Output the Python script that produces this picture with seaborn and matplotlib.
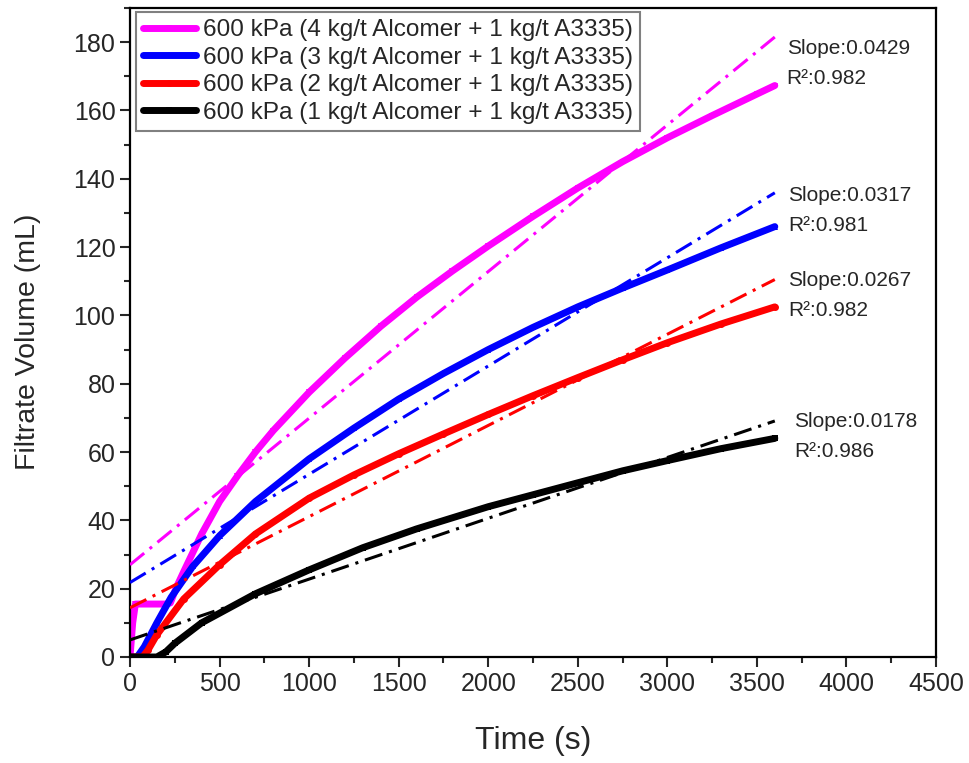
import numpy as np
import pandas as pd
import matplotlib
matplotlib.use("Agg")
import matplotlib.pyplot as plt
import seaborn as sns
from matplotlib.ticker import MultipleLocator

sns.set_style("ticks")
plt.rcParams["font.family"] = ["Liberation Sans", "DejaVu Sans"]

# ---------------- data ----------------
series_labels = [
    "600 kPa (4 kg/t Alcomer + 1 kg/t A3335)",
    "600 kPa (3 kg/t Alcomer + 1 kg/t A3335)",
    "600 kPa (2 kg/t Alcomer + 1 kg/t A3335)",
    "600 kPa (1 kg/t Alcomer + 1 kg/t A3335)",
]
series_colors = ["#FF00FF", "#0000FF", "#FF0000", "#000000"]
series_markers = ["v", "^", "o", "s"]

t4 = [0, 15, 30, 100, 200, 225, 260, 300, 400, 500, 600, 700, 800, 1000, 1200, 1400,
      1600, 1800, 2000, 2250, 2500, 2750, 3000, 3250, 3500, 3600]
v4 = [0, 10, 15.5, 15.5, 15.5, 15.8, 20.5, 25, 36, 45.5, 53, 60, 66.3, 77.5, 87.5, 96.8,
      105.3, 113, 120.3, 129, 137.3, 145, 152, 158.5, 164.8, 167.3]

t3 = [0, 40, 80, 150, 230, 350, 500, 700, 1000, 1250, 1500, 1750, 2000, 2250, 2500,
      2750, 3000, 3300, 3600]
v3 = [0, 0, 3, 10, 17.5, 26.5, 35.5, 45.5, 58, 67, 75.5, 83, 90, 96.5, 102.5,
      108, 113.3, 119.8, 126]

t2 = [0, 70, 100, 150, 300, 500, 700, 1000, 1250, 1500, 1750, 2000, 2250, 2500, 2750,
      3000, 3300, 3600]
v2 = [0, 0, 2, 6.5, 17, 27, 36, 46.5, 53.3, 59.5, 65.3, 71, 76.5, 81.8, 87, 92, 97.5, 102.5]

t1 = [0, 150, 200, 250, 400, 700, 1000, 1300, 1600, 2000, 2250, 2500, 2750, 3000, 3300, 3600]
v1 = [0, 0, 1.5, 4, 10, 18.5, 25.5, 32, 37.5, 44, 47.5, 51, 54.5, 57.5, 61, 64]

# linear fit lines (end points)
fit_t = [0, 3600]
fit4 = [27.0, 181.5]
fit3 = [21.8, 135.9]
fit2 = [14.4, 110.5]
fit1 = [5.0, 69.1]

slope_texts = ["Slope:0.0429", "Slope:0.0317", "Slope:0.0267", "Slope:0.0178"]
r2_texts = ["R²:0.982", "R²:0.981", "R²:0.982", "R²:0.986"]

# annotation placement (data coords)
txt_x = [3666, 3675, 3675, 3708]
slope_y = [178.0, 135.0, 110.3, 68.8]
r2_y = [169.4, 126.2, 101.5, 60.3]

# ---------------- figure ----------------
fig = plt.figure(figsize=(9.69, 7.63), dpi=100)
ax = fig.add_axes([130 / 969, 1 - 657 / 763, (936 - 130) / 969, (657 - 8) / 763])

curves = [(t4, v4), (t3, v3), (t2, v2), (t1, v1)]
fits = [fit4, fit3, fit2, fit1]

for (t, v), lab, c, m in zip(curves, series_labels, series_colors, series_markers):
    df = pd.DataFrame({"t": t, "v": v})
    sns.lineplot(data=df, x="t", y="v", color=c, marker=m, markersize=5,
                 markeredgewidth=0, lw=5, label=lab, ax=ax,
                 estimator=None, sort=False, zorder=2,
                 solid_joinstyle="round", solid_capstyle="round")

for f, c in zip(fits, series_colors):
    dff = pd.DataFrame({"t": fit_t, "v": f})
    sns.lineplot(data=dff, x="t", y="v", color=c, lw=2.2, ax=ax, legend=False,
                 estimator=None, sort=False, zorder=3,
                 linestyle=(0, (6, 2.3, 1, 2.3)))

for xs, s1, s2, y1, y2 in zip(txt_x, slope_texts, r2_texts, slope_y, r2_y):
    ax.text(xs, y1, s1, fontsize=15, ha="left", va="center")
    ax.text(xs, y2, s2, fontsize=15, ha="left", va="center")

ax.set_xlim(0, 4500)
ax.set_ylim(0, 190)
ax.xaxis.set_major_locator(MultipleLocator(500))
ax.xaxis.set_minor_locator(MultipleLocator(250))
ax.yaxis.set_major_locator(MultipleLocator(20))
ax.yaxis.set_minor_locator(MultipleLocator(10))
ax.tick_params(which="major", direction="out", length=7, width=1.5, labelsize=18,
               top=False, right=False)
ax.tick_params(which="minor", direction="out", length=4, width=1.5,
               top=False, right=False)
for sp in ax.spines.values():
    sp.set_visible(True)
    sp.set_linewidth(1.6)
    sp.set_color("black")

ax.set_xlabel("Time (s)", fontsize=23, labelpad=22)
ax.set_ylabel("Filtrate Volume (mL)", fontsize=20.5)
ax.yaxis.set_label_coords(-0.11, 0.485)

leg = ax.legend(loc="upper left", bbox_to_anchor=(0.007, 0.994), fontsize=17.6,
                frameon=True, fancybox=False, edgecolor="#808080", framealpha=1,
                handlelength=2.15, handletextpad=0.3, labelspacing=0.22,
                borderpad=0.3, borderaxespad=0)
leg.get_frame().set_linewidth(1.5)

fig.savefig("out.png", dpi=100)
